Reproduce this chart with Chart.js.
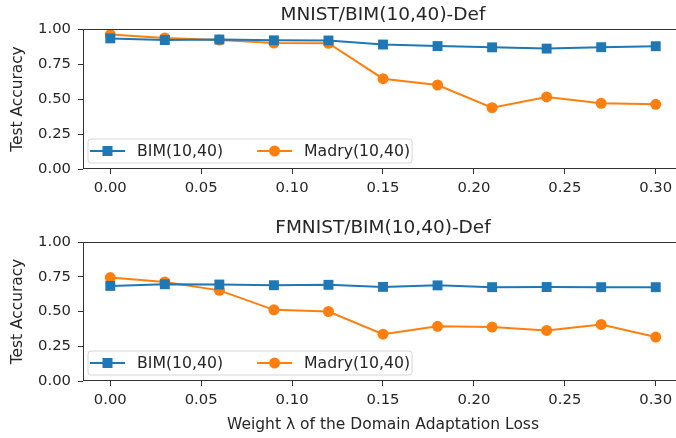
<!DOCTYPE html>
<html>
<head>
<meta charset="utf-8">
<script src="https://cdn.jsdelivr.net/npm/chart.js@4.4.0/dist/chart.umd.min.js"></script>
<style>
  html, body { margin: 0; padding: 0; background: #fff; overflow: hidden; width: 676px; height: 438px; }
  canvas { display: block; }
</style>
</head>
<body>
<canvas id="mnist" width="700" height="213"></canvas>
<canvas id="fmnist" width="700" height="225"></canvas>
<script>
const lambdas = [0.00, 0.03, 0.06, 0.09, 0.12, 0.15, 0.18, 0.21, 0.24, 0.27, 0.30];
const xTicks = [0.00, 0.05, 0.10, 0.15, 0.20, 0.25, 0.30];
const yTicks = [0.00, 0.25, 0.50, 0.75, 1.00];

const mnistBim   = [0.933, 0.921, 0.925, 0.919, 0.918, 0.889, 0.878, 0.869, 0.860, 0.870, 0.877];
const mnistMadry = [0.960, 0.936, 0.921, 0.900, 0.898, 0.645, 0.600, 0.438, 0.515, 0.469, 0.462];
const fmnistBim   = [0.684, 0.696, 0.694, 0.689, 0.692, 0.677, 0.688, 0.675, 0.676, 0.675, 0.675];
const fmnistMadry = [0.744, 0.713, 0.652, 0.512, 0.500, 0.337, 0.393, 0.388, 0.364, 0.407, 0.316];

const BLUE = '#1f77b4';
const ORANGE = '#ff7f0e';
const FONT = 'DejaVu Sans';
const TEXT = '#262626';

// axes frame + title centred over the axes (matplotlib style)
const frameBox = {
  id: 'frameBox',
  afterDraw(chart, args, opts) {
    const a = chart.chartArea, ctx = chart.ctx;
    ctx.save();
    ctx.strokeStyle = '#333';
    ctx.lineWidth = 1;
    ctx.strokeRect(a.left + 0.5, a.top + 0.5, a.right - a.left - 1, a.bottom - a.top - 1);
    ctx.fillStyle = TEXT;
    ctx.font = '18.5px "' + FONT + '"';
    ctx.textAlign = 'center';
    ctx.textBaseline = 'alphabetic';
    ctx.fillText(opts.text, (a.left + a.right) / 2, 19.5);
    ctx.restore();
  }
};

// legend in the lower left of the axes
const innerLegend = {
  id: 'innerLegend',
  afterDatasetsDraw(chart) {
    const a = chart.chartArea, ctx = chart.ctx;
    const sets = chart.data.datasets;
    ctx.save();
    ctx.font = '15.7px "' + FONT + '"';
    const left = a.left + 5, h = 24, bottom = a.bottom - 6, top = bottom - h;
    const cy = top + h / 2;
    let x = left + 2;
    const items = [];
    sets.forEach(ds => {
      const w = ctx.measureText(ds.label).width;
      items.push({ ds, x, w });
      x += 47 + w + 34;
    });
    const right = x - 34 + 2;
    ctx.beginPath();
    ctx.roundRect(left, top, right - left, h, 3);
    ctx.fillStyle = 'rgba(255,255,255,0.8)';
    ctx.fill();
    ctx.strokeStyle = '#d6d6d6';
    ctx.lineWidth = 1;
    ctx.stroke();
    items.forEach(it => {
      const c = it.ds.borderColor;
      ctx.strokeStyle = c;
      ctx.lineWidth = 2;
      ctx.beginPath();
      ctx.moveTo(it.x, cy);
      ctx.lineTo(it.x + 35, cy);
      ctx.stroke();
      ctx.fillStyle = c;
      const mx = it.x + 17.5;
      if (it.ds.pointStyle === 'rect') {
        ctx.fillRect(mx - 5, cy - 5, 10, 10);
      } else {
        ctx.beginPath();
        ctx.arc(mx, cy, 5.5, 0, Math.PI * 2);
        ctx.fill();
      }
      ctx.fillStyle = TEXT;
      ctx.textBaseline = 'middle';
      ctx.fillText(it.ds.label, it.x + 47, cy + 1);
    });
    ctx.restore();
  }
};

function series(values) {
  return lambdas.map((l, i) => ({ x: l, y: values[i] }));
}

function makeChart(id, title, bim, madry, xHeight, xTitle) {
  return new Chart(document.getElementById(id), {
    type: 'line',
    data: {
      datasets: [{
        label: 'BIM(10,40)',
        data: series(bim),
        borderColor: BLUE,
        backgroundColor: BLUE,
        borderWidth: 2,
        pointStyle: 'rect',
        pointRadius: 7,
        pointBorderWidth: 0,
        tension: 0
      }, {
        label: 'Madry(10,40)',
        data: series(madry),
        borderColor: ORANGE,
        backgroundColor: ORANGE,
        borderWidth: 2,
        pointStyle: 'circle',
        pointRadius: 5.5,
        pointBorderWidth: 0,
        tension: 0
      }]
    },
    options: {
      responsive: false,
      animation: false,
      layout: { padding: { left: 0, right: 17, top: 29, bottom: 0 } },
      plugins: {
        legend: { display: false },
        tooltip: { enabled: false },
        title: { display: false },
        frameBox: { text: title }
      },
      scales: {
        x: {
          type: 'linear',
          min: -0.015,
          max: 0.315,
          afterBuildTicks: s => { s.ticks = xTicks.map(v => ({ value: v })); },
          afterFit: s => { s.height = xHeight; },
          border: { display: false },
          grid: { drawOnChartArea: false, drawTicks: true, tickLength: 5, color: '#333' },
          ticks: {
            color: TEXT,
            padding: 5,
            maxRotation: 0,
            font: { family: FONT, size: 14.8 },
            callback: v => v.toFixed(2)
          },
          title: {
            display: !!xTitle,
            text: xTitle || '',
            color: TEXT,
            font: { family: FONT, size: 15.5 },
            padding: { top: 4, bottom: 4 }
          }
        },
        y: {
          min: 0,
          max: 1,
          afterBuildTicks: s => { s.ticks = yTicks.map(v => ({ value: v })); },
          afterFit: s => { s.width = 83; },
          border: { display: false },
          grid: { drawOnChartArea: false, drawTicks: true, tickLength: 5, color: '#333' },
          ticks: {
            color: TEXT,
            padding: 7,
            font: { family: FONT, size: 14.8 },
            callback: v => v.toFixed(2)
          },
          title: {
            display: true,
            text: 'Test Accuracy',
            color: TEXT,
            font: { family: FONT, size: 15.4 },
            padding: { top: 9, bottom: 4 }
          }
        }
      }
    },
    plugins: [frameBox, innerLegend]
  });
}

makeChart('mnist', 'MNIST/BIM(10,40)-Def', mnistBim, mnistMadry, 44, null);
makeChart('fmnist', 'FMNIST/BIM(10,40)-Def', fmnistBim, fmnistMadry, 57, 'Weight \u03bb of the Domain Adaptation Loss');
</script>
</body>
</html>
